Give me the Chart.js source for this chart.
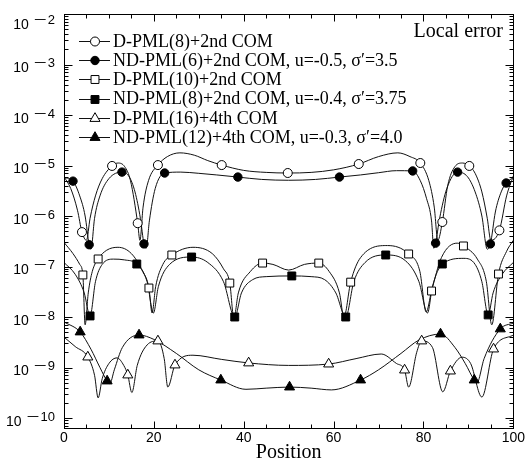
<!DOCTYPE html>
<html>
<head>
<meta charset="utf-8">
<script src="https://cdn.jsdelivr.net/npm/chart.js@4.4.1/dist/chart.umd.min.js"></script>
<style>
  html, body { margin: 0; padding: 0; background: #fff; }
  #wrap { width: 527px; height: 467px; }
</style>
</head>
<body>
<div id="wrap"><canvas id="chart" width="527" height="467"></canvas></div>
<script>
// series labels
const seriesNames = [
  'D-PML(8)+2nd COM',
  'ND-PML(6)+2nd COM, u=-0.5, σ′=3.5',
  'D-PML(10)+2nd COM',
  'ND-PML(8)+2nd COM, u=-0.4, σ′=3.75',
  'D-PML(16)+4th COM',
  'ND-PML(12)+4th COM, u=-0.3, σ′=4.0'
];

// curves
const c1X = [0, 1.5, 3, 4.0, 5.0, 5.8, 7, 8.5, 10.7, 12, 13.5, 14.8, 16.4, 16.9, 17.6, 18.8, 20.9, 23, 25.8, 29, 32, 35.1, 40, 45, 49.8, 55, 60, 65.6, 70, 74.3, 77, 79.3, 81.2, 82.4, 83.2, 84.2, 85.4, 87, 88.7, 90.2, 91.5, 93, 94.2, 95.0, 96.9, 98.5, 100];
const c1Y = [6.0e-6, 3.5e-6, 1.3e-6, 4.8e-7, 3.3e-7, 9e-7, 2.5e-6, 5.5e-6, 9.8e-6, 1.12e-5, 9.5e-6, 5e-6, 7.2e-7, 3.3e-7, 1.5e-6, 5e-6, 1.02e-5, 1.5e-5, 1.78e-5, 1.6e-5, 1.25e-5, 1.02e-5, 8e-6, 7.3e-6, 7.1e-6, 7.3e-6, 8.2e-6, 1.07e-5, 1.5e-5, 1.78e-5, 1.5e-5, 1.12e-5, 5e-6, 1.5e-6, 3.3e-7, 7.6e-7, 4e-6, 9.5e-6, 1.12e-5, 9.8e-6, 7e-6, 3e-6, 9e-7, 3.3e-7, 5.2e-7, 2.5e-6, 6.2e-6];

const c2X = [0, 2.0, 3.5, 4.7, 5.6, 6.0, 6.8, 8, 10, 12.9, 14.5, 15.8, 17, 17.8, 18.3, 19, 20.3, 22.4, 26, 30, 34, 38.7, 44, 50, 56, 61.3, 66, 70, 74, 77.6, 79.3, 80.7, 81.8, 82.3, 82.7, 83.6, 85.2, 87.6, 89.8, 91.5, 93, 94.2, 94.9, 96, 97.3, 98.4, 100];
const c2Y = [5.8e-6, 4.9e-6, 2.5e-6, 1e-6, 2.7e-7, 2.2e-7, 9e-7, 2.5e-6, 5.5e-6, 7.4e-6, 6e-6, 3e-6, 9e-7, 2.8e-7, 2.3e-7, 8e-7, 3.5e-6, 7.1e-6, 7.4e-6, 7.0e-6, 6.5e-6, 5.9e-6, 5.3e-6, 5.1e-6, 5.3e-6, 5.9e-6, 6.5e-6, 7.2e-6, 7.9e-6, 7.8e-6, 5e-6, 2.2e-6, 8e-7, 2.3e-7, 2.9e-7, 9e-7, 3.5e-6, 7.4e-6, 6e-6, 3e-6, 1e-6, 2.2e-7, 2.8e-7, 1.2e-6, 3e-6, 4.5e-6, 5.8e-6];

const c3X = [0, 2, 3.5, 4.2, 4.7, 5.4, 6.3, 7.6, 9.5, 12, 15, 17.5, 18.9, 19.6, 20.4, 22, 24.0, 28.7, 33, 35.5, 36.9, 37.8, 38.8, 41.5, 44.2, 46.5, 50, 53.5, 56.7, 59, 61.3, 62.3, 63.8, 66, 72, 76.7, 79.2, 80.6, 81.8, 84, 87.5, 88.9, 92, 94, 95.2, 96.7, 98.5, 100];
const c3Y = [3.0e-7, 1.8e-7, 1.1e-7, 6.8e-8, 7e-9, 3e-8, 8e-8, 1.41e-7, 2.1e-7, 2.4e-7, 1.8e-7, 8e-8, 3.75e-8, 1.2e-8, 4e-8, 1.1e-7, 1.69e-7, 2.4e-7, 1.8e-7, 9e-8, 4.7e-8, 9.5e-9, 3e-8, 8e-8, 1.17e-7, 1.1e-7, 8.5e-8, 1.1e-7, 1.17e-7, 8e-8, 3e-8, 1e-8, 4.9e-8, 1.5e-7, 2.6e-7, 1.77e-7, 8e-8, 1.26e-8, 3.27e-8, 1.5e-7, 2.9e-7, 2.55e-7, 1.4e-7, 5e-8, 7e-9, 7.1e-8, 2e-7, 3.3e-7];

const c4X = [0, 2.5, 4.5, 5.8, 7, 8.5, 11, 13.5, 16.2, 18.5, 19.9, 21, 23.5, 28.4, 32, 35.5, 38.0, 39.5, 42, 45, 50.7, 55, 58, 60.5, 62.7, 64.5, 67, 71.6, 76, 79, 80.9, 82, 84.2, 89, 91.5, 93, 94.4, 95.5, 97.5, 100];
const c4Y = [1.2e-7, 7e-8, 3e-8, 1.05e-8, 5e-8, 1.1e-7, 1.4e-7, 1.35e-7, 1.12e-7, 5e-8, 1.2e-8, 4e-8, 1.1e-7, 1.54e-7, 1.2e-7, 5e-8, 1.0e-8, 3e-8, 5.5e-8, 6.3e-8, 6.5e-8, 6.3e-8, 5.5e-8, 3e-8, 1.0e-8, 5e-8, 1.2e-7, 1.69e-7, 1.3e-7, 5e-8, 1.2e-8, 4e-8, 1.12e-7, 1.45e-7, 1.1e-7, 5e-8, 1.1e-8, 3e-8, 7e-8, 1.2e-7];

const c5X = [0, 2.5, 5.3, 6.8, 7.6, 8.5, 10, 11.8, 13.3, 14.2, 15.1, 16.3, 18.5, 20.9, 22.3, 23.1, 24.7, 28.7, 35, 41.1, 50, 58.9, 65, 70.6, 74, 75.8, 76.7, 78.5, 79.6, 82, 84.3, 86.0, 88.6, 90.5, 93, 95.6, 100];
const c5Y = [4.0e-9, 2.6e-9, 1.61e-9, 7e-10, 2.5e-10, 6e-10, 1.2e-9, 1.55e-9, 1.1e-9, 7.1e-10, 3.2e-10, 1.1e-9, 2.8e-9, 3.35e-9, 1.5e-9, 4.1e-10, 1.12e-9, 1.75e-9, 1.45e-9, 1.23e-9, 1.1e-9, 1.17e-9, 1.5e-9, 1.85e-9, 1.2e-9, 8.9e-10, 4.1e-10, 2e-9, 3.35e-9, 2.5e-9, 3.3e-10, 8.5e-10, 1.6e-9, 1.2e-9, 2.6e-10, 2.32e-9, 4.4e-9];

const c6X = [0, 3.6, 6, 8, 9.6, 10.2, 11.2, 13, 16.7, 20, 25, 30, 34.9, 40.5, 45, 50.2, 55, 59.5, 66, 70, 75, 79, 83.8, 87, 89.3, 91.3, 91.9, 93.5, 97.1, 100];
const c6Y = [8.0e-9, 5.05e-9, 2.3e-9, 1.0e-9, 5.4e-10, 4.8e-10, 9e-10, 2.5e-9, 4.4e-9, 3.6e-9, 1.9e-9, 9e-10, 5.65e-10, 3.7e-10, 3.9e-10, 4.1e-10, 3.9e-10, 3.6e-10, 5.65e-10, 9e-10, 1.9e-9, 3.5e-9, 4.6e-9, 2.5e-9, 1.2e-9, 5.65e-10, 5e-10, 1.5e-9, 5.8e-9, 7.6e-9];

// symbols on the curves
const m1X = [4.0, 10.7, 16.4, 20.9, 35.1, 49.8, 65.6, 79.3, 84.2, 90.2, 96.9];
const m1Y = [4.8e-7, 9.8e-6, 7.2e-7, 1.02e-5, 1.02e-5, 7.1e-6, 1.07e-5, 1.12e-5, 7.6e-7, 9.8e-6, 5.2e-7];
const m2X = [2.0, 5.6, 12.9, 17.8, 22.4, 38.7, 61.3, 77.6, 82.7, 87.6, 94.9, 98.4];
const m2Y = [4.9e-6, 2.7e-7, 7.4e-6, 2.8e-7, 7.1e-6, 5.9e-6, 5.9e-6, 7.8e-6, 2.9e-7, 7.4e-6, 2.8e-7, 4.5e-6];
const m3X = [4.2, 7.6, 18.9, 24.0, 36.9, 44.2, 56.7, 63.8, 76.7, 81.8, 88.9, 96.7];
const m3Y = [6.8e-8, 1.41e-7, 3.75e-8, 1.69e-7, 4.7e-8, 1.17e-7, 1.17e-7, 4.9e-8, 1.77e-7, 3.27e-8, 2.55e-7, 7.1e-8];
const m4X = [5.8, 16.2, 28.4, 38.0, 50.7, 62.7, 71.6, 84.2, 94.4];
const m4Y = [1.05e-8, 1.12e-7, 1.54e-7, 1.0e-8, 6.5e-8, 1.0e-8, 1.69e-7, 1.12e-7, 1.1e-8];
const m5X = [5.3, 14.2, 20.9, 24.7, 41.1, 58.9, 75.8, 79.6, 86.0, 95.6];
const m5Y = [1.61e-9, 7.1e-10, 3.35e-9, 1.12e-9, 1.23e-9, 1.17e-9, 8.9e-10, 3.35e-9, 8.5e-10, 2.32e-9];
const m6X = [3.6, 9.6, 16.7, 34.9, 50.2, 66.0, 83.8, 91.3, 97.1];
const m6Y = [5.05e-9, 5.4e-10, 4.4e-9, 5.65e-10, 4.1e-10, 5.65e-10, 4.6e-9, 5.65e-10, 5.8e-9];

// axes
const xTicks = [0, 20, 40, 60, 80, 100];
const yTickExps = [-2, -3, -4, -5, -6, -7, -8, -9, -10];

const curves = [[c1X, c1Y], [c2X, c2Y], [c3X, c3Y], [c4X, c4Y], [c5X, c5Y], [c6X, c6Y]];
const marks = [[m1X, m1Y], [m2X, m2Y], [m3X, m3Y], [m4X, m4Y], [m5X, m5Y], [m6X, m6Y]];
const symbols = [
  { style: 'circle', r: 4.5, fill: '#fff' },
  { style: 'circle', r: 4.2, fill: '#000' },
  { style: 'rect', r: 5.6, fill: '#fff' },
  { style: 'rect', r: 5.6, fill: '#000' },
  { style: 'triangle', r: 5.8, fill: '#fff' },
  { style: 'triangle', r: 5.8, fill: '#000' }
];

const pts = (xs, ys) => xs.map((x, i) => ({ x: x, y: ys[i] }));

const datasets = [];
curves.forEach(([xs, ys], i) => {
  datasets.push({
    label: seriesNames[i],
    data: pts(xs, ys),
    showLine: true,
    pointRadius: 0,
    borderColor: '#111',
    borderWidth: 1,
    cubicInterpolationMode: 'monotone',
    order: 2
  });
});
marks.forEach(([xs, ys], i) => {
  const s = symbols[i];
  datasets.push({
    label: seriesNames[i] + ' symbols',
    data: pts(xs, ys),
    showLine: false,
    pointStyle: s.style,
    pointRadius: s.r,
    pointBackgroundColor: s.fill,
    pointBorderColor: '#000',
    pointBorderWidth: 1,
    order: 1
  });
});

const SANS = '"Liberation Sans", Arial, sans-serif';
const SERIF = '"Liberation Serif", "Times New Roman", serif';

// frame, inward ticks, y labels with exponents, legend box, note
const decor = {
  id: 'decor',
  afterDatasetsDraw(chart) {
    const { ctx, chartArea: a, scales: { x, y } } = chart;
    ctx.save();
    ctx.strokeStyle = '#000';
    ctx.lineWidth = 1;
    const L = Math.round(a.left) + 0.5, R = Math.round(a.right) + 0.5;
    const T = Math.round(a.top) + 0.5, B = Math.round(a.bottom) + 0.5;
    ctx.strokeRect(L, T, R - L, B - T);
    ctx.beginPath();
    for (let v = 0; v <= 100; v += 5) {
      const px = Math.round(x.getPixelForValue(v)) + 0.5;
      const len = v % 20 === 0 ? 7 : 4;
      ctx.moveTo(px, B); ctx.lineTo(px, B - len);
      ctx.moveTo(px, T); ctx.lineTo(px, T + len);
    }
    for (let e = -11; e <= -2; e++) {
      for (let k = 1; k <= 9; k++) {
        const v = k * Math.pow(10, e);
        if (v < y.min * 0.999 || v > y.max * 1.001) continue;
        const py = Math.round(y.getPixelForValue(v)) + 0.5;
        const len = k === 1 ? 8 : 4;
        ctx.moveTo(L, py); ctx.lineTo(L + len, py);
        ctx.moveTo(R, py); ctx.lineTo(R - len, py);
      }
    }
    ctx.stroke();

    // y tick labels 10^n
    ctx.fillStyle = '#000';
    ctx.textAlign = 'left';
    ctx.textBaseline = 'alphabetic';
    yTickExps.forEach(e => {
      const ty = Math.max(y.getPixelForValue(Math.pow(10, e)), 21);
      const digits = String(Math.abs(e));
      ctx.font = '13px ' + SANS;
      const dw = ctx.measureText(digits).width;
      const right = 55;
      ctx.fillText(digits, right - dw, ty + 2.5);
      const mw = ctx.measureText('\u2212').width;
      const minusW = 13;
      const mx = right - dw - 1 - minusW;
      ctx.save();
      ctx.translate(mx, ty + 2.5);
      ctx.scale(minusW / mw, 1);
      ctx.fillText('\u2212', 0, 0);
      ctx.restore();
      ctx.font = '14px ' + SANS;
      const bw = ctx.measureText('10').width;
      ctx.fillText('10', mx - 5 - bw, ty + 7.5);
    });

    // legend
    ctx.font = '18px ' + SERIF;
    ctx.textBaseline = 'middle';
    seriesNames.forEach((name, i) => {
      const ly = 41 + i * 19.2;
      ctx.beginPath();
      ctx.moveTo(79, Math.round(ly) + 0.5);
      ctx.lineTo(110, Math.round(ly) + 0.5);
      ctx.strokeStyle = '#111';
      ctx.stroke();
      const s = symbols[i];
      ctx.fillStyle = s.fill;
      ctx.strokeStyle = '#000';
      Chart.helpers.drawPoint(ctx, { pointStyle: s.style, radius: s.r, rotation: 0, borderWidth: 1 }, 95, Math.round(ly) + 0.5);
      ctx.fillStyle = '#000';
      ctx.fillText(name, 113, ly + 1);
    });

    ctx.font = '20px ' + SERIF;
    ctx.textAlign = 'right';
    ctx.textBaseline = 'alphabetic';
    ctx.fillText('Local error', 503, 37);
    ctx.restore();
  }
};

new Chart(document.getElementById('chart'), {
  type: 'scatter',
  data: { datasets: datasets },
  options: {
    responsive: false,
    animation: false,
    layout: { padding: { top: 14, right: 12, bottom: 0, left: 0 } },
    plugins: { legend: { display: false }, tooltip: { enabled: false } },
    scales: {
      x: {
        type: 'linear',
        min: 0,
        max: 100,
        afterBuildTicks: (s) => { s.ticks = xTicks.map(v => ({ value: v })); },
        ticks: { color: '#000', font: { family: SANS, size: 14 }, padding: 2, maxRotation: 0 },
        grid: { display: false, drawTicks: false },
        border: { display: false },
        title: { display: true, text: 'Position', color: '#000', font: { family: SERIF, size: 20 }, padding: { top: 0, bottom: 2 } },
        afterFit: (s) => { s.height = 39; }
      },
      y: {
        type: 'logarithmic',
        min: 6.34e-11,
        max: 1e-2,
        ticks: { display: false },
        grid: { display: false, drawTicks: false },
        border: { display: false },
        afterFit: (s) => { s.width = 64; }
      }
    }
  },
  plugins: [decor]
});
</script>
</body>
</html>
